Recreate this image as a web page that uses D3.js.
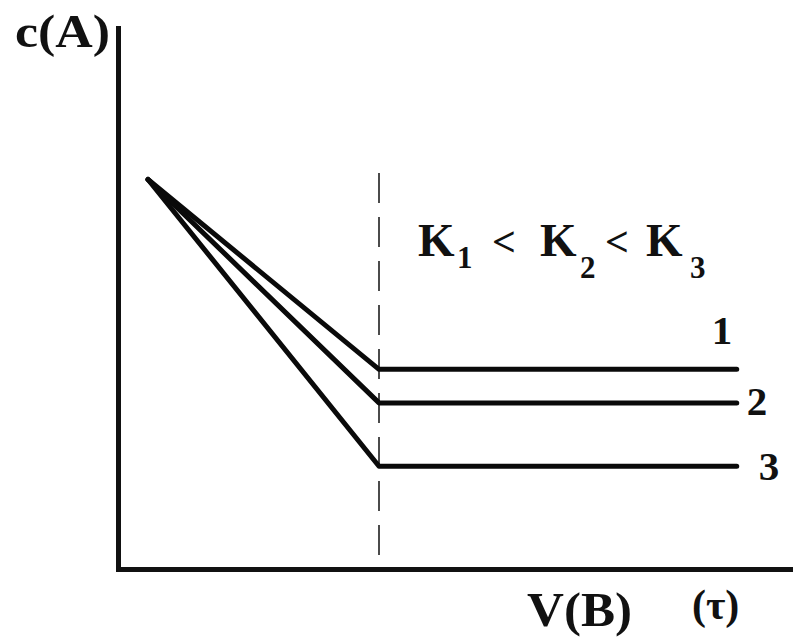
<!DOCTYPE html>
<html>
<head>
<meta charset="utf-8">
<script src="https://cdn.jsdelivr.net/npm/d3@7"></script>
<style>
  body { margin: 0; background: #fff; }
  text { font-family: "Liberation Serif", "Times New Roman", serif; font-weight: bold; fill: #111; }
</style>
</head>
<body>
<div id="chart"></div>
<script>
// values (arbitrary units)
const curveIds = ['1', '2', '3'];
const startPoint = { x: 0.4, y: 7.2 };
const breakX = 3.48;
const endX = 8.25;
const plateau = [3.69, 3.07, 1.9];
const dashTop = 7.32;

const width = 793, height = 639;

const svg = d3.select('#chart').append('svg')
    .attr('width', width).attr('height', height)
    .attr('viewBox', `0 0 ${width} ${height}`);

const x = d3.scaleLinear().domain([0, 9]).range([118, 793]);
const y = d3.scaleLinear().domain([0, 10]).range([569, 28]);

// Axes (no ticks, just heavy lines)
svg.append('g').attr('transform', `translate(0,${y(0)})`)
    .call(d3.axisBottom(x).tickValues([]).tickSizeOuter(0))
    .call((sel) => sel.select('.domain').attr('stroke', '#111').attr('stroke-width', 5).attr('stroke-linecap', 'square'));
svg.append('g').attr('transform', `translate(${x(0)},0)`)
    .call(d3.axisLeft(y).tickValues([]).tickSizeOuter(0))
    .call((sel) => sel.select('.domain').attr('stroke', '#111').attr('stroke-width', 5).attr('stroke-linecap', 'square'));

// Dashed vertical line at the break point
svg.append('line')
    .attr('x1', x(breakX)).attr('x2', x(breakX))
    .attr('y1', y(dashTop)).attr('y2', y(0))
    .attr('stroke', '#111').attr('stroke-width', 1.5)
    .attr('stroke-dasharray', '30,14');

// Curves
const line = d3.line().x((d) => x(d[0])).y((d) => y(d[1]));
curveIds.forEach((id, i) => {
    const pts = [[startPoint.x, startPoint.y], [breakX, plateau[i]], [endX, plateau[i]]];
    svg.append('path')
        .attr('d', line(pts))
        .attr('fill', 'none')
        .attr('stroke', '#0a0a0a')
        .attr('stroke-width', 5)
        .attr('stroke-linejoin', 'round')
        .attr('stroke-linecap', 'round');
});

// Curve labels
const labelPos = [
    { dx: -25, dy: -25 },
    { dx: 10, dy: 12 },
    { dx: 22, dy: 14 }
];
curveIds.forEach((id, i) => {
    svg.append('text')
        .attr('x', x(endX) + labelPos[i].dx)
        .attr('y', y(plateau[i]) + labelPos[i].dy)
        .attr('font-size', 41)
        .text(id);
});

// K1 < K2 < K3
const kText = svg.append('text').attr('y', 256);
kText.append('tspan').attr('x', 418).attr('font-size', 47).text('K');
kText.append('tspan').attr('x', 457).attr('dy', 12).attr('font-size', 31).text('1');
kText.append('tspan').attr('x', 492).attr('dy', -12).attr('font-size', 42).text('<');
kText.append('tspan').attr('x', 540).attr('font-size', 47).text('K');
kText.append('tspan').attr('x', 580).attr('dy', 22).attr('font-size', 31).text('2');
kText.append('tspan').attr('x', 605).attr('dy', -22).attr('font-size', 42).text('<');
kText.append('tspan').attr('x', 646).attr('font-size', 47).text('K');
kText.append('tspan').attr('x', 690).attr('dy', 22).attr('font-size', 31).text('3');

// Axis titles
svg.append('text').attr('x', 15).attr('y', 47)
    .attr('font-size', 47).attr('textLength', 95).attr('lengthAdjust', 'spacingAndGlyphs')
    .text('c(A)');
svg.append('text').attr('x', 527).attr('y', 626)
    .attr('font-size', 48).attr('textLength', 105).attr('lengthAdjust', 'spacingAndGlyphs')
    .text('V(B)');
svg.append('text').attr('x', 692).attr('y', 619)
    .attr('font-size', 42)
    .text('(τ)');
</script>
</body>
</html>
